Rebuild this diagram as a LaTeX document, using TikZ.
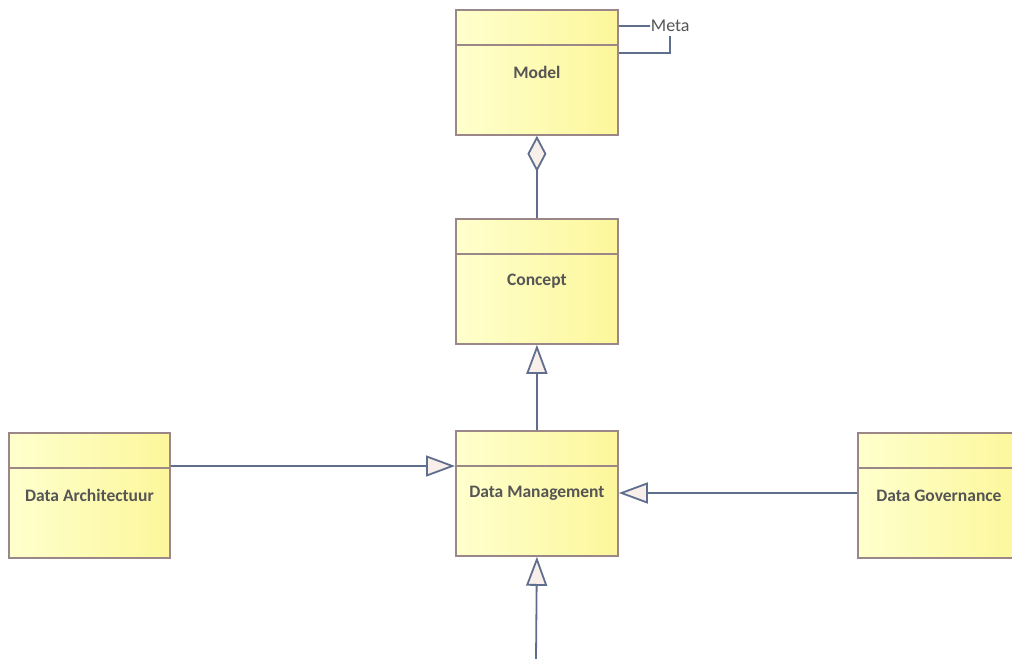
\documentclass[tikz,border=0pt]{standalone}
\usepackage{fontspec}
\setmainfont{Carlito}
\usetikzlibrary{arrows.meta}
\definecolor{box_border}{RGB}{155,135,135}
\definecolor{box_left}{RGB}{255,255,205}
\definecolor{box_right}{RGB}{252,247,155}
\definecolor{edge_slate}{RGB}{95,110,140}
\definecolor{tip_fill}{RGB}{248,238,234}
\definecolor{text_gray}{RGB}{85,85,85}
\begin{document}
\begin{tikzpicture}[x=1bp,y=-1bp,line width=1.8bp]
    \tikzstyle{cls}=[draw=box_border, rectangle, anchor=north west, minimum width=162bp, minimum height=125bp,
        left color=box_left, right color=box_right, text=text_gray,
        font=\fontsize{17.5bp}{20bp}\selectfont\bfseries,
        path picture={\draw[box_border,line width=1.8bp] ([yshift=-35bp]path picture bounding box.north west) -- ([yshift=-35bp]path picture bounding box.north east);}]
    \tikzstyle{gen}=[draw=edge_slate, -{Triangle[open, fill=tip_fill, length=29bp, width=21bp]}]
    \tikzstyle{agg}=[draw=edge_slate, {Diamond[open, fill=tip_fill, length=36bp, width=19bp]}-]
    \useasboundingbox (0,0) rectangle (1012,659);

    \node[cls] (model) at (455,9)   {Model};
    \node[cls] (concept) at (455,218) {Concept};
    \node[cls] (dm) at (455,430)   {Data Management};
    \node[cls, minimum width=161bp] (da) at (8,432) {Data Architectuur};
    \node[cls] (dg) at (857,432)   {Data Governance};
    \node[anchor=west, inner sep=0pt, text=text_gray, font=\fontsize{18bp}{20bp}\selectfont] (meta) at (650,26) {Meta};
    \coordinate (bot) at (536,659);

    \path
     (model.south) edge[agg] (concept.north)
     (dm.north) edge[gen] (concept.south)
     (bot) edge[gen] (dm.south)
     ;
    \draw[gen] ([yshift=-34bp]da.north east) -- ([yshift=-36bp]dm.north west);
    \draw[gen] ([yshift=-61bp]dg.north west) -- ([yshift=-63bp]dm.north east);
    % self loop
    \draw[edge_slate] ([yshift=-17bp]model.north east) -- (meta.west);
    \draw[edge_slate] ([yshift=-44bp]model.north east) -| ([yshift=-3bp]meta.south);
  \end{tikzpicture}
\end{document}
